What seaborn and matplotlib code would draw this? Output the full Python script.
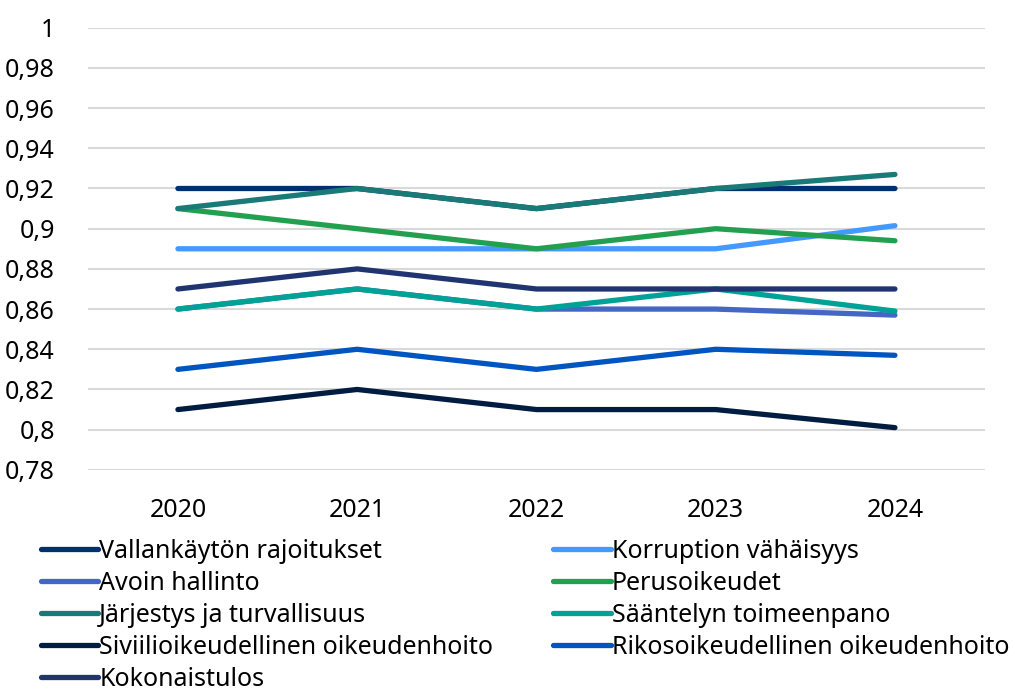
import seaborn as sns
import matplotlib.pyplot as plt
import pandas as pd
from matplotlib.ticker import FixedLocator, FuncFormatter

years = [2020, 2021, 2022, 2023, 2024]

series = [
    "Vallankäytön rajoitukset",
    "Korruption vähäisyys",
    "Avoin hallinto",
    "Perusoikeudet",
    "Järjestys ja turvallisuus",
    "Sääntelyn toimeenpano",
    "Siviilioikeudellinen oikeudenhoito",
    "Rikosoikeudellinen oikeudenhoito",
    "Kokonaistulos",
]

vallankaytto = [0.92, 0.92, 0.91, 0.92, 0.92]
korruptio = [0.89, 0.89, 0.89, 0.89, 0.9015]
avoin = [0.86, 0.87, 0.86, 0.86, 0.857]
perusoikeudet = [0.91, 0.90, 0.89, 0.90, 0.894]
jarjestys = [0.91, 0.92, 0.91, 0.92, 0.927]
saantely = [0.86, 0.87, 0.86, 0.87, 0.859]
siviili = [0.81, 0.82, 0.81, 0.81, 0.801]
rikos = [0.83, 0.84, 0.83, 0.84, 0.837]
kokonais = [0.87, 0.88, 0.87, 0.87, 0.87]

values = [vallankaytto, korruptio, avoin, perusoikeudet, jarjestys,
          saantely, siviili, rikos, kokonais]

colors = ["#003070", "#4499ff", "#4466c4", "#22a050", "#1a7a78",
          "#00a296", "#001c40", "#0055c0", "#1f3470"]

yticks = [0.78, 0.80, 0.82, 0.84, 0.86, 0.88, 0.90, 0.92, 0.94, 0.96, 0.98, 1.0]

rows = []
for name, vals in zip(series, values):
    for y, v in zip(years, vals):
        rows.append({"Vuosi": y, "Arvo": v, "Osa-alue": name})
df = pd.DataFrame(rows)

sns.set_style("white")
plt.rcParams["font.family"] = ["Noto Sans", "DejaVu Sans"]
plt.rcParams["text.color"] = "black"

fig = plt.figure(figsize=(10.15, 6.93), dpi=100)
ax = fig.add_axes([0.087, 0.322, 0.883, 0.638])

sns.lineplot(data=df, x="Vuosi", y="Arvo", hue="Osa-alue", hue_order=series,
             palette=colors, linewidth=3.8, ax=ax, legend=False,
             solid_capstyle="round")

ax.set_xlim(2019.5, 2024.5)
ax.set_ylim(0.78, 1.0)
ax.yaxis.set_major_locator(FixedLocator(yticks))
ax.yaxis.set_major_formatter(FuncFormatter(
    lambda v, p: f"{v:.2f}".rstrip("0").rstrip(".").replace(".", ",")))
ax.set_xticks(years)
ax.grid(axis="y", color="#d9d9d9", linewidth=1.5)
ax.set_axisbelow(True)
for s in ax.spines.values():
    s.set_visible(False)
ax.tick_params(axis="both", length=0, labelsize=18, colors="black")
ax.tick_params(axis="x", pad=20)
ax.tick_params(axis="y", pad=24)
ax.set_xlabel("")
ax.set_ylabel("")

# legend rows go left-right, matplotlib fills columns first
handles = [plt.Line2D([], [], color=c, linewidth=3.8, solid_capstyle="round")
           for c in colors]
order = [0, 2, 4, 6, 8, 1, 3, 5, 7]
fig.legend([handles[i] for i in order], [series[i] for i in order],
           ncol=2, loc="upper left", bbox_to_anchor=(0.04, 0.222),
           frameon=False, fontsize=18, handlelength=2.3, handletextpad=0.05,
           columnspacing=2.4, labelspacing=0.28, borderaxespad=0,
           borderpad=0)

fig.savefig("out.png", dpi=100)
